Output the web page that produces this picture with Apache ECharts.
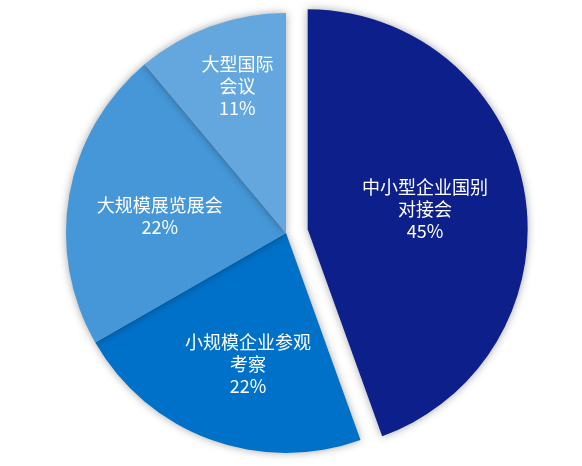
<!DOCTYPE html>
<html>
<head>
<meta charset="utf-8">
<script src="https://cdn.jsdelivr.net/npm/echarts@6/dist/echarts.min.js"></script>
<style>
html,body{margin:0;padding:0;background:#fff;}
#chart{width:582px;height:466px;}
</style>
</head>
<body>
<div id="chart"></div>
<script>
var categories = ['中小型企业国别\n对接会', '小规模企业参观\n考察', '大规模展览展会', '大型国际\n会议'];
var values = [44.5, 22.2, 22.2, 11.1];
var colors = ['#0d1f8a', '#0071c9', '#4597d7', '#63a7de'];
var labelShift = [[6, -1], [1, 25], [-15, 3], [-10, -41]];

var chart = echarts.init(document.getElementById('chart'));
var data = categories.map(function (c, i) {
  return {
    name: c,
    value: values[i],
    selected: i === 0,
    itemStyle: { color: colors[i] }
  };
});
chart.setOption({
  animation: false,
  series: [{
    type: 'pie',
    center: ['49.14%', '50%'],
    radius: 220,
    startAngle: 90,
    clockwise: true,
    percentPrecision: 0,
    selectedMode: 'single',
    selectedOffset: 22,
    data: data,
    itemStyle: {
      shadowBlur: 8,
      shadowColor: 'rgba(0,0,0,0.35)',
      borderWidth: 0
    },
    label: {
      show: true,
      position: 'inside',
      formatter: '{b}\n{d}%',
      color: '#ffffff',
      fontSize: 18,
      lineHeight: 22,
      fontFamily: '"Noto Sans CJK SC", "Noto Sans", sans-serif'
    },
    labelLine: { show: false },
    labelLayout: function (p) {
      var s = labelShift[p.dataIndex];
      return { dx: s[0], dy: s[1] };
    },
    emphasis: { disabled: true },
    select: { itemStyle: { color: colors[0] } }
  }]
});
</script>
</body>
</html>
